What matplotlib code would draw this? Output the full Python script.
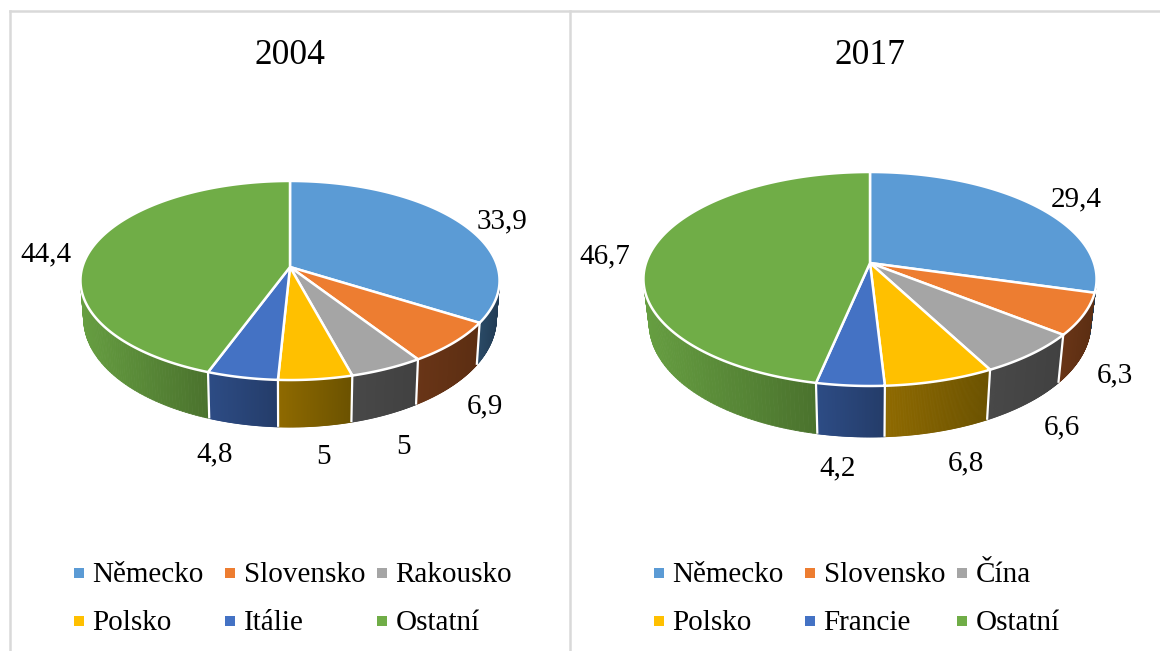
import numpy as np
import matplotlib
matplotlib.use("Agg")
import matplotlib.pyplot as plt
from matplotlib.collections import PolyCollection
from matplotlib.patches import Rectangle

plt.rcParams['font.family'] = ['Liberation Serif', 'DejaVu Serif']

# Data
labels_2004 = ['Německo', 'Slovensko', 'Rakousko', 'Polsko', 'Itálie', 'Ostatní']
values_2004 = [33.9, 6.9, 5, 5, 4.8, 44.4]
value_text_2004 = ['33,9', '6,9', '5', '5', '4,8', '44,4']

labels_2017 = ['Německo', 'Slovensko', 'Čína', 'Polsko', 'Francie', 'Ostatní']
values_2017 = [29.4, 6.3, 6.6, 6.8, 4.2, 46.7]
value_text_2017 = ['29,4', '6,3', '6,6', '6,8', '4,2', '46,7']

top_colors = ['#5b9bd5', '#ed7d31', '#a5a5a5', '#ffc000', '#4472c4', '#70ad47']
# side colours, start and end of the gradient (left to right)
side_colors = [('#2a4a66', '#223c55'), ('#693517', '#5c2e12'), ('#484848', '#414141'),
               ('#8f6a00', '#6b5200'), ('#2d4c85', '#243c69'), ('#669e41', '#4a722d')]

gray_line = '#d9d9d9'


def hex_rgb(c):
    return np.array(matplotlib.colors.to_rgb(c))


def project(t, cx, cy, a, b, c):
    # circle seen in perspective, t clockwise from the top
    u, v = np.sin(t), np.cos(t)
    w = 1 + b * v
    return cx + c * u / w, cy - a * v / w


def project_low(t, cx, cy, a, b, c, d0, d1, s):
    # lower rim of the disc, a bit narrower and deeper at the front
    x, y = project(t, cx, cy, a, b, c)
    return cx + (x - cx) * s, y + d0 - d1 * np.cos(t)


def draw_pie(ax, values, cx, cy, a, b, c, d0, d1, s):
    bounds = np.radians(np.cumsum([0] + list(values)) * 3.6)
    vis_lo, vis_hi = np.radians(78), np.radians(282)

    # sides first
    for i in range(len(values)):
        t0 = max(bounds[i], vis_lo)
        t1 = min(bounds[i + 1], vis_hi)
        if t1 <= t0:
            continue
        ts = np.linspace(t0, t1, 90)
        xs = project(ts, cx, cy, a, b, c)[0]
        xmin, xmax = xs.min(), xs.max()
        polys = []
        cols = []
        c_left, c_right = hex_rgb(side_colors[i][0]), hex_rgb(side_colors[i][1])
        for k in range(len(ts) - 1):
            x0, y0 = project(ts[k], cx, cy, a, b, c)
            x1, y1 = project(ts[k + 1], cx, cy, a, b, c)
            x2, y2 = project_low(ts[k + 1], cx, cy, a, b, c, d0, d1, s)
            x3, y3 = project_low(ts[k], cx, cy, a, b, c, d0, d1, s)
            polys.append([(x0, y0), (x1, y1), (x2, y2), (x3, y3)])
            f = ((x0 + x1) / 2 - xmin) / (xmax - xmin)
            cols.append(c_left + (c_right - c_left) * f)
        ax.add_collection(PolyCollection(polys, facecolors=cols, edgecolors=cols,
                                         linewidths=0.6, zorder=2))

    # white separators on the side, none near the silhouette
    for t in bounds:
        if vis_lo < t < vis_hi and np.cos(t) < -0.4:
            x0, y0 = project(t, cx, cy, a, b, c)
            x1, y1 = project_low(t, cx, cy, a, b, c, d0, d1, s)
            ax.plot([x0, x1], [y0, y1], color='white', lw=1.6, zorder=3,
                    solid_capstyle='butt')

    # top face
    for i in range(len(values)):
        ts = np.linspace(bounds[i], bounds[i + 1], 200)
        x, y = project(ts, cx, cy, a, b, c)
        ax.fill(np.r_[cx, x], np.r_[cy, y], facecolor=top_colors[i], edgecolor='white',
                lw=1.8, joinstyle='round', zorder=4)


def draw_legend(ax, labels, col_x, row_y):
    for i, name in enumerate(labels):
        x = col_x[i % 3]
        y = row_y[i // 3]
        ax.add_patch(Rectangle((x, y - 5), 10, 10, facecolor=top_colors[i], edgecolor='none', zorder=5))
        ax.text(x + 18.5, y + 2, name, fontsize=legend_size, va='center', ha='left', color='black')


title_size = 25.5
label_size = 21
legend_size = 21

fig = plt.figure(figsize=(11.6, 6.51), dpi=100)
ax = fig.add_axes([0, 0, 1, 1])
ax.set_xlim(0, 1160)
ax.set_ylim(651, 0)
ax.axis('off')

# panel frame
ax.plot([9.5, 9.5], [651, 11], color=gray_line, lw=1.8)
ax.plot([9.5, 1160], [11, 11], color=gray_line, lw=1.8)
ax.plot([570, 570], [651, 11], color=gray_line, lw=1.8)

ax.text(290, 55, '2004', fontsize=title_size, ha='center', va='center')
ax.text(870, 55, '2017', fontsize=title_size, ha='center', va='center')

draw_pie(ax, values_2004, 290, 267, 97.7, 0.1357, 207.6, 36.4, 10.6, 0.985)
draw_pie(ax, values_2017, 870, 263, 104.6, 0.1495, 224.0, 43, 8, 0.975)

# value labels
pos_2004 = [(502, 221), (485, 406), (403, 447), (324, 457), (215, 454), (45.5, 254)]
pos_2017 = [(1076, 199), (1115, 375), (1062, 427), (966, 463), (838, 468), (605, 256)]
for txt, (x, y) in zip(value_text_2004, pos_2004):
    ax.text(x, y, txt, fontsize=label_size, ha='center', va='center')
for txt, (x, y) in zip(value_text_2017, pos_2017):
    ax.text(x, y, txt, fontsize=label_size, ha='center', va='center')

draw_legend(ax, labels_2004, [74, 225, 377], [573, 621])
draw_legend(ax, labels_2017, [654, 805, 957], [573, 621])

fig.savefig('out.png', dpi=100)
